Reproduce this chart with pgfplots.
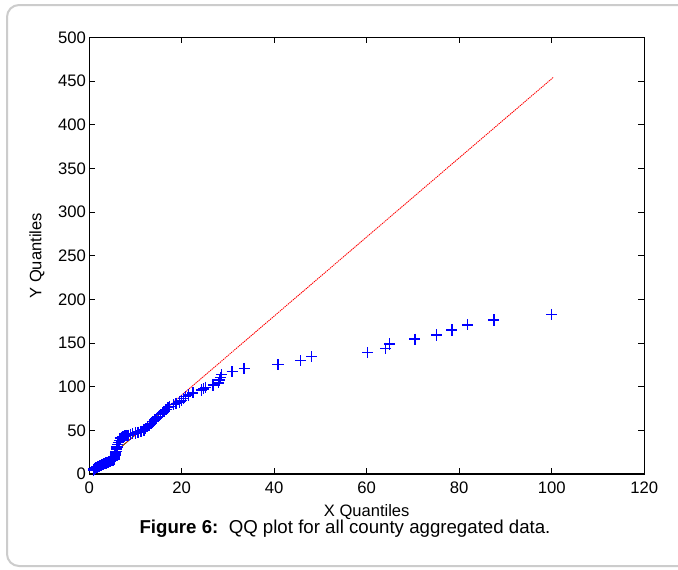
\documentclass[border=0pt]{standalone}
\usepackage{fontspec}
\setmainfont{Liberation Sans}
\usepackage{pgfplots}
\usepackage{pgfplotstable}
\pgfplotsset{compat=1.18}
\definecolor{framegray}{RGB}{204,204,204}
\definecolor{qgreen}{RGB}{0,128,0}
\pgfplotstableread{
x y
0.9 4.2
1.0 5.6
1.1 6.0
1.2 6.4
1.35 7.0
1.5 7.3
1.6 7.6
1.7 7.9
1.85 8.2
2.0 8.6
2.1 9.0
2.2 9.3
2.35 9.6
2.5 9.9
2.6 10.2
2.75 10.5
2.9 10.8
3.0 11.1
3.1 11.4
3.25 11.7
3.4 12.0
3.5 12.3
3.65 12.6
3.8 12.9
3.9 13.2
4.05 13.5
4.2 13.8
4.35 14.1
4.5 14.5
4.65 14.9
4.8 15.3
4.95 15.7
5.1 16.1
5.25 16.6
5.35 17.2
5.4 18.5
5.5 20.0
5.6 22.0
5.7 24.0
5.8 26.0
5.9 28.5
6.0 31.0
6.15 33.5
6.3 36.0
6.5 38.5
6.7 41.0
7.0 42.0
7.3 43.0
7.6 43.5
8.0 44.0
8.4 44.5
8.9 45.5
9.4 46.0
10.0 47.0
10.6 48.0
11.2 49.0
11.8 50.5
12.2 52.0
12.6 54.0
13.0 56.0
13.4 58.0
13.8 60.0
14.2 62.0
14.6 64.0
15.0 66.0
15.4 68.0
15.8 70.0
16.2 72.0
16.6 74.0
17.0 76.0
17.4 77.5
18.2 79.5
18.8 81.0
19.5 82.5
20.0 84.0
20.4 86.5
20.8 88.5
21.5 90.5
22.4 93.0
24.3 96.2
24.7 97.5
25.1 99.3
26.8 102.0
27.9 104.5
28.2 107.5
28.4 110.5
28.6 113.8
30.9 117.2
33.5 121.0
40.8 125.2
45.7 129.8
48.1 134.3
60.2 139.0
64.1 144.0
64.9 149.0
70.4 154.4
75.1 159.3
78.4 164.9
81.8 170.9
87.5 176.3
100.0 182.8
}\qqdata
\begin{document}
\begin{tikzpicture}
\useasboundingbox (0,0) rectangle (508.5pt,-426.75pt);
\fill[white] (0,0) rectangle (508.5pt,-426.75pt);
\draw[line width=1.5pt, framegray, rounded corners=9pt] (540pt,-3.75pt) -- (5.25pt,-3.75pt) -- (5.25pt,-424.5pt) -- (540pt,-424.5pt);
\begin{axis}[
  at={(66.9pt,-355.5pt)}, anchor=south west,
  scale only axis, width=416.25pt, height=327.4pt,
  xmin=0, xmax=120, ymin=0, ymax=500,
  xtick={0,20,...,120}, ytick={0,50,...,500},
  tick align=inside, major tick length=4.5pt,
  axis line style={line width=0.8pt},
  every tick/.style={black, line width=0.8pt},
  /pgf/number format/assume math mode=true,
  tick label style={font=\fontsize{12.5}{15}\selectfont},
  xticklabel style={yshift=-2.5pt},
  yticklabel style={xshift=1pt},
  xlabel={X Quantiles}, ylabel={Y Quantiles},
  every axis x label/.style={at={(axis description cs:0.5,-0.0978)}, anchor=base, font=\fontsize{12.4}{14}\selectfont},
  every axis y label/.style={at={(axis description cs:-0.094,0.5)}, anchor=center, rotate=90, font=\fontsize{12.4}{14}\selectfont},
  clip=false,
]
\addplot[only marks, mark=+, mark size=4.2pt, blue, mark options={line width=1.1pt}] table[x=x,y=y] {\qqdata};
\addplot[qgreen, line width=0.6pt] coordinates {(1.9,8.3) (16.0,72.2)};
\addplot[red, line width=0.65pt, dash pattern=on 1pt off 0.6pt] coordinates {(0.9,3.8) (100.3,454.1)};
\end{axis}
\node[anchor=base, font=\fontsize{14}{17}\selectfont] at (258.75pt,-399.75pt) {\textbf{Figure 6:}\ \ QQ plot for all county aggregated data.};
\end{tikzpicture}
\end{document}
